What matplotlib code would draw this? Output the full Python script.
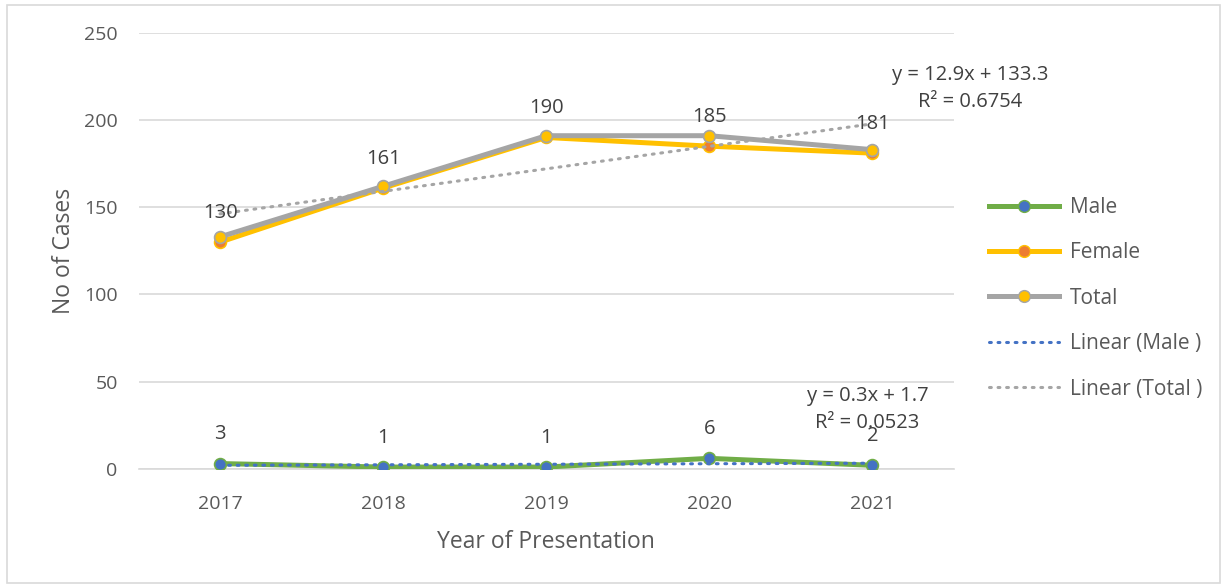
import numpy as np
import matplotlib
matplotlib.use("Agg")
import matplotlib.pyplot as plt
from matplotlib.patches import Rectangle
from matplotlib.lines import Line2D

years = ["2017", "2018", "2019", "2020", "2021"]
male = [3, 1, 1, 6, 2]
female = [130, 161, 190, 185, 181]
total = [133, 162, 191, 191, 183]
yticks = [0, 50, 100, 150, 200, 250]

TXT = "#595959"
GRID = "#d9d9d9"

plt.rcParams["font.family"] = ["Open Sans", "DejaVu Sans"]

fig = plt.figure(figsize=(12.26, 5.86), dpi=100)
ax = fig.add_axes([0.113, 0.2, 0.665, 0.744])

x = np.arange(1, len(years) + 1)

# series
ax.plot(x, male, color="#70AD47", lw=3.6, marker="o", ms=8.5,
        mfc="#4472C4", mec="#70AD47", mew=1.2, zorder=3, solid_capstyle="round")
ax.plot(x, female, color="#FFC000", lw=3.6, marker="o", ms=8.5,
        mfc="#ED7D31", mec="#FFC000", mew=1.2, zorder=4, solid_capstyle="round")
ax.plot(x, total, color="#A5A5A5", lw=3.6, marker="o", ms=8.5,
        mfc="#FFC000", mec="#A5A5A5", mew=1.2, zorder=5, solid_capstyle="round")

# linear trendlines fitted from the data
mk, mb = np.polyfit(x, male, 1)
tk, tb = np.polyfit(x, total, 1)
ax.plot(x, mk * x + mb, color="#4472C4", lw=2.2, ls=(0, (0.6, 2.2)),
        dash_capstyle="round", zorder=6)
ax.plot(x, tk * x + tb, color="#A5A5A5", lw=2.2, ls=(0, (0.6, 2.2)),
        dash_capstyle="round", zorder=6)

def r2(y, k, b):
    y = np.asarray(y, float)
    pred = k * x + b
    return 1 - ((y - pred) ** 2).sum() / ((y - y.mean()) ** 2).sum()

# data labels
for xi, v in zip(x, male):
    ax.annotate(str(v), (xi, v), xytext=(0, 21), textcoords="offset points",
                ha="center", va="center", fontsize=14.5, color="#404040", zorder=8)
for xi, v in zip(x, female):
    ax.annotate(str(v), (xi, v), xytext=(0, 21), textcoords="offset points",
                ha="center", va="center", fontsize=14.5, color="#404040", zorder=8)

# trendline equations
ax.text(5.6, 218, f"y = {tk:.1f}x + {tb:.1f}\nR\u00b2 = {r2(total, tk, tb):.4f}",
        ha="center", va="center", fontsize=14.5, color="#404040", linespacing=1.45)
ax.text(4.97, 34, f"y = {mk:.1f}x + {mb:.1f}\nR\u00b2 = {r2(male, mk, mb):.4f}",
        ha="center", va="center", fontsize=14.5, color="#404040", linespacing=1.45)

ax.set_xlim(0.5, 5.5)
ax.set_ylim(0, 250)
ax.set_xticks(x)
ax.set_xticklabels(years)
ax.set_yticks(yticks)
ax.grid(axis="y", color=GRID, lw=1.2)
ax.set_axisbelow(True)
for s in ["top", "right", "left"]:
    ax.spines[s].set_visible(False)
ax.spines["bottom"].set_color(GRID)
ax.spines["bottom"].set_linewidth(1.2)
ax.tick_params(length=0, colors=TXT, labelsize=14)
ax.tick_params(axis="x", pad=19)
ax.tick_params(axis="y", pad=15)

ax.set_ylabel("No of Cases", fontsize=16.5, color=TXT, labelpad=6)
ax.set_xlabel("Year of Presentation", fontsize=16.5, color=TXT, labelpad=12)

handles = [
    Line2D([], [], color="#70AD47", lw=3.6, marker="o", ms=8.5, mfc="#4472C4", mec="#70AD47"),
    Line2D([], [], color="#FFC000", lw=3.6, marker="o", ms=8.5, mfc="#ED7D31", mec="#FFC000"),
    Line2D([], [], color="#A5A5A5", lw=3.6, marker="o", ms=8.5, mfc="#FFC000", mec="#A5A5A5"),
    Line2D([], [], color="#4472C4", lw=2.2, ls=(0, (0.6, 2.2)), dash_capstyle="round"),
    Line2D([], [], color="#A5A5A5", lw=2.2, ls=(0, (0.6, 2.2)), dash_capstyle="round"),
]
labels = ["Male", "Female", "Total", "Linear (Male )", "Linear (Total )"]
fig.legend(handles, labels, loc="center left", bbox_to_anchor=(0.791, 0.491),
           frameon=False, fontsize=15, labelcolor=TXT, handlelength=3.4,
           labelspacing=1.17, handletextpad=0.5)

fig.add_artist(Rectangle((0.006, 0.005), 0.989, 0.987, transform=fig.transFigure,
                         fill=False, ec="#d9d9d9", lw=1.2))

fig.savefig("out.png", dpi=100)
